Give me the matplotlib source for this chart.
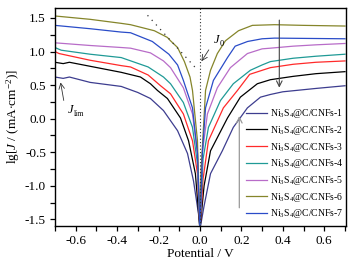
import matplotlib
matplotlib.use("Agg")
import matplotlib.pyplot as plt

plt.rcParams['font.family'] = 'Liberation Serif'
plt.rcParams['mathtext.fontset'] = 'custom'
plt.rcParams['mathtext.rm'] = 'Liberation Serif'
plt.rcParams['mathtext.it'] = 'Liberation Serif:italic'
plt.rcParams['axes.unicode_minus'] = False

# curves: potential (V) and lg|J|
e1 = [-0.70, -0.66, -0.63, -0.53, -0.38, -0.30, -0.239, -0.176, -0.108, -0.060, -0.031, -0.007, 0.0,
      0.02, 0.051, 0.108, 0.161, 0.229, 0.292, 0.34, 0.40, 0.56, 0.70]
j1 = [0.62, 0.60, 0.62, 0.54, 0.48, 0.39, 0.30, 0.12, -0.18, -0.52, -0.93, -1.42, -1.65,
      -1.30, -0.82, -0.48, -0.13, 0.16, 0.32, 0.36, 0.40, 0.45, 0.49]

e2 = [-0.70, -0.66, -0.63, -0.53, -0.38, -0.287, -0.239, -0.205, -0.157, -0.094, -0.055, -0.022, 0.0,
      0.02, 0.051, 0.133, 0.195, 0.277, 0.34, 0.45, 0.56, 0.70]
j2 = [0.84, 0.82, 0.84, 0.78, 0.69, 0.62, 0.52, 0.42, 0.30, 0.01, -0.33, -0.82, -1.65,
      -1.00, -0.48, 0.01, 0.32, 0.52, 0.58, 0.63, 0.67, 0.70]

e3 = [-0.70, -0.68, -0.53, -0.38, -0.335, -0.25, -0.19, -0.142, -0.080, -0.036, -0.012, 0.0,
      0.015, 0.041, 0.113, 0.181, 0.24, 0.34, 0.45, 0.56, 0.70]
j3 = [1.00, 0.97, 0.87, 0.79, 0.77, 0.65, 0.49, 0.37, 0.07, -0.33, -0.82, -1.65,
      -0.90, -0.33, 0.16, 0.42, 0.66, 0.76, 0.81, 0.84, 0.86]

e4 = [-0.70, -0.67, -0.53, -0.38, -0.25, -0.176, -0.142, -0.080, -0.036, -0.012, 0.0,
      0.015, 0.041, 0.099, 0.161, 0.243, 0.30, 0.34, 0.45, 0.56, 0.70]
j4 = [1.06, 1.02, 0.96, 0.91, 0.77, 0.62, 0.52, 0.24, -0.13, -0.67, -1.65,
      -0.60, -0.13, 0.27, 0.52, 0.72, 0.80, 0.85, 0.90, 0.93, 0.96]

e5 = [-0.70, -0.53, -0.38, -0.335, -0.239, -0.176, -0.142, -0.080, -0.036, -0.012, 0.0,
      0.012, 0.036, 0.084, 0.147, 0.229, 0.30, 0.34, 0.45, 0.56, 0.70]
j5 = [1.13, 1.09, 1.06, 1.05, 0.98, 0.86, 0.76, 0.46, 0.07, -0.52, -1.65,
      -0.50, 0.07, 0.46, 0.76, 0.97, 1.04, 1.05, 1.08, 1.10, 1.12]

e6 = [-0.70, -0.53, -0.38, -0.335, -0.22, -0.157, -0.142, -0.108, -0.075, -0.048, -0.036, -0.012, 0.0,
      0.005, 0.027, 0.051, 0.084, 0.123, 0.186, 0.253, 0.36, 0.50, 0.70]
j6 = [1.53, 1.48, 1.42, 1.40, 1.31, 1.21, 1.16, 1.06, 0.85, 0.62, 0.42, -0.33, -1.65,
      -0.80, 0.42, 0.72, 0.97, 1.16, 1.31, 1.39, 1.40, 1.39, 1.38]

e7 = [-0.70, -0.53, -0.38, -0.335, -0.23, -0.15, -0.108, -0.080, -0.036, -0.012, 0.0,
      0.012, 0.027, 0.065, 0.133, 0.17, 0.23, 0.30, 0.36, 0.70]
j7 = [1.39, 1.34, 1.29, 1.28, 1.15, 0.96, 0.80, 0.57, 0.16, -0.52, -1.65,
      -0.50, 0.16, 0.57, 0.91, 1.08, 1.15, 1.19, 1.20, 1.19]

labels = [r'Ni$_3$S$_4$@C/CNFs-%d' % i for i in range(1, 8)]
colors = ['#3d3d8f', '#000000', '#ff2a2a', '#1f9a96', '#b86cc8', '#85852a', '#2a4cc8']

# tangent used for J0
tan_e = [-0.253, -0.022]
tan_j = [1.54, 0.76]

fig = plt.figure(figsize=(3.52, 2.64), dpi=100)
ax = fig.add_axes([0.156, 0.144, 0.827, 0.826])

curves = [(e1, j1), (e2, j2), (e3, j3), (e4, j4), (e5, j5), (e6, j6), (e7, j7)]
for (e, j), c, lab in zip(curves, colors, labels):
    ax.plot(e, j, color=c, lw=0.9, label=lab)

ax.axvline(0, color='#333333', lw=0.8, ls=(0, (1, 2)))
ax.plot(tan_e, tan_j, color='#333333', lw=0.9, ls=(0, (1, 4)))

# annotations
ax.annotate('', xy=(-0.675, 0.58), xytext=(-0.655, 0.23),
            arrowprops=dict(arrowstyle='->', color='#333333', lw=0.6))
ax.text(-0.64, 0.08, r'$J$', fontsize=9)
ax.text(-0.607, 0.04, 'lim', fontsize=5.5)
ax.annotate('', xy=(0.0, 0.82), xytext=(0.05, 1.06),
            arrowprops=dict(arrowstyle='->', color='#333333', lw=0.6))
ax.text(0.063, 1.13, r'$J$', fontsize=9)
ax.text(0.095, 1.08, '0', fontsize=6)
ax.annotate('', xy=(0.383, 0.42), xytext=(0.383, 1.51),
            arrowprops=dict(arrowstyle='->', color='#444444', lw=0.8))
ax.annotate('', xy=(0.19, 0.08), xytext=(0.19, -1.37),
            arrowprops=dict(arrowstyle='->', color='#999999', lw=0.9))

ax.set_xlim(-0.7, 0.705)
ax.set_ylim(-1.6, 1.65)
ax.set_xticks([-0.6, -0.4, -0.2, 0.0, 0.2, 0.4, 0.6])
ax.set_xticks([-0.7, -0.5, -0.3, -0.1, 0.1, 0.3, 0.5, 0.7], minor=True)
ax.set_yticks([-1.5, -1.0, -0.5, 0.0, 0.5, 1.0, 1.5])
ax.set_yticks([-1.25, -0.75, -0.25, 0.25, 0.75, 1.25], minor=True)
ax.tick_params(which='both', direction='out', length=3.5, width=0.9, labelsize=9.5, pad=3)
for s in ax.spines.values():
    s.set_linewidth(1.0)

ax.set_xlabel('Potential / V', fontsize=9.5, labelpad=1)
ax.set_ylabel(r'lg[$J$ / (mA$\cdot$cm$^{-2}$)]', fontsize=9.5, labelpad=2)

ax.legend(loc='upper left', bbox_to_anchor=(0.655, 0.545), frameon=False,
          fontsize=7, handlelength=2.2, handletextpad=0.3, labelspacing=0.38,
          borderpad=0, borderaxespad=0)

fig.savefig('out.png', dpi=100)
